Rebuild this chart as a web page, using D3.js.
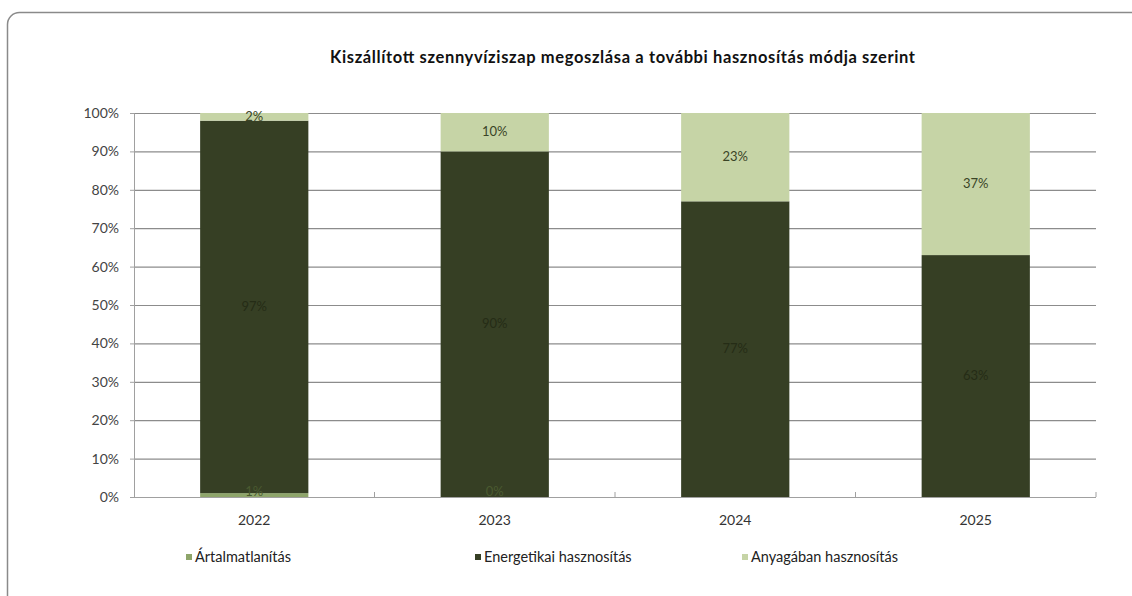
<!DOCTYPE html>
<html>
<head>
<meta charset="utf-8">
<script src="https://cdn.jsdelivr.net/npm/d3@7"></script>
<style>
  body { margin: 0; background: #fff; }
  svg text { font-family: Lato, "Open Sans", sans-serif; }
</style>
</head>
<body>
<div id="chart"></div>
<script>
// --- data ---
const years = ["2022", "2023", "2024", "2025"];
const seriesNames = ["Ártalmatlanítás", "Energetikai hasznosítás", "Anyagában hasznosítás"];
const artalmatlanitas = [1, 0, 0, 0];
const energetikai = [97, 90, 77, 63];
const anyagaban = [2, 10, 23, 37];
// which labels Excel actually showed (2024/2025 had none for the bottom series)
const showBottomLabel = [true, true, false, false];
const yTicks = [0, 10, 20, 30, 40, 50, 60, 70, 80, 90, 100];
const colors = ["#8ea56a", "#363f24", "#c6d4a6"];

const W = 1132, H = 596;
const margin = { top: 113, right: 36, bottom: 99, left: 134 };

const svg = d3.select("#chart").append("svg")
    .attr("width", W).attr("height", H);

// outer frame (only top & left edges fall inside the view)
svg.append("rect")
    .attr("x", 7.5).attr("y", 12.5)
    .attr("width", 1136).attr("height", 600)
    .attr("rx", 12)
    .attr("fill", "none").attr("stroke", "#8a8a8a").attr("stroke-width", 1.5);

svg.append("text")
    .attr("x", 330).attr("y", 63)
    .attr("font-size", 16.5).attr("font-weight", 700).attr("fill", "#111")
    .attr("textLength", 585).attr("lengthAdjust", "spacing")
    .text("Kiszállított szennyvíziszap megoszlása a további hasznosítás módja szerint");

const x = d3.scaleBand().domain(years)
    .range([margin.left, W - margin.right])
    .paddingInner(0.55).paddingOuter(0.275);
const y = d3.scaleLinear().domain([0, 100])
    .range([H - margin.bottom, margin.top]);

// grid lines
svg.append("g").selectAll("line")
    .data(yTicks.filter(d => d > 0))
    .enter().append("line")
    .attr("x1", margin.left).attr("x2", W - margin.right)
    .attr("y1", d => y(d) + 0.5).attr("y2", d => y(d) + 0.5)
    .attr("stroke", "#8c8c8c").attr("stroke-width", 1.2);

// y axis
const yAxis = svg.append("g")
    .attr("transform", `translate(${margin.left},0)`)
    .call(d3.axisLeft(y).tickValues(yTicks).tickFormat(d => d + "%").tickSize(4).tickPadding(11));
yAxis.select(".domain").attr("stroke", "#a0a0a0");
yAxis.selectAll(".tick line").attr("stroke", "#a0a0a0");
yAxis.selectAll("text").attr("font-size", 14).attr("fill", "#444");

// stacked bars
const rows = years.map((yr, i) => ({
    year: yr, a: artalmatlanitas[i], e: energetikai[i], m: anyagaban[i], idx: i
}));
const stack = d3.stack().keys(["a", "e", "m"])(rows);

const layers = svg.append("g").selectAll("g")
    .data(stack).enter().append("g")
    .attr("fill", (d, i) => colors[i]);

layers.selectAll("rect")
    .data(d => d)
    .enter().append("rect")
    .attr("x", d => x(d.data.year))
    .attr("width", x.bandwidth())
    .attr("y", d => y(d[1]))
    .attr("height", d => y(d[0]) - y(d[1]));

// x axis
const xAxis = svg.append("g")
    .attr("transform", `translate(0,${H - margin.bottom})`);
xAxis.append("line")
    .attr("x1", margin.left).attr("x2", W - margin.right)
    .attr("y1", 0.5).attr("y2", 0.5)
    .attr("stroke", "#a0a0a0").attr("stroke-width", 1.2);
const step = x.step();
xAxis.selectAll(".sep")
    .data(years)
    .enter().append("line")
    .attr("x1", d => x(d) - x.paddingInner() * step / 2 + step)
    .attr("x2", d => x(d) - x.paddingInner() * step / 2 + step)
    .attr("y1", 0).attr("y2", -5)
    .attr("stroke", "#a0a0a0");
xAxis.selectAll(".lbl")
    .data(years)
    .enter().append("text")
    .attr("x", d => x(d) + x.bandwidth() / 2)
    .attr("y", 28)
    .attr("text-anchor", "middle")
    .attr("font-size", 14).attr("fill", "#333")
    .text(d => d);

// data labels
const labelColor = ["#4a5a30", "#252c16", "#3a4426"];
stack.forEach((layer, li) => {
    svg.append("g").selectAll("text")
        .data(layer.filter(d => li !== 0 || showBottomLabel[d.data.idx]))
        .enter().append("text")
        .attr("x", d => x(d.data.year) + x.bandwidth() / 2)
        .attr("y", d => li === 0 ? y(0) - 1 : (y(d[0]) + y(d[1])) / 2 + 4)
        .attr("text-anchor", "middle")
        .attr("font-size", 13).attr("fill", labelColor[li])
        .text(d => (d[1] - d[0]) + "%");
});

// legend
const legendX = [186, 475, 742];
const legend = svg.append("g").selectAll("g")
    .data(seriesNames).enter().append("g")
    .attr("transform", (d, i) => `translate(${legendX[i]},562)`);
legend.append("rect")
    .attr("x", 0).attr("y", -8).attr("width", 6).attr("height", 6)
    .attr("fill", (d, i) => colors[i]);
legend.append("text")
    .attr("x", 9).attr("y", 0)
    .attr("font-size", 14.5).attr("fill", "#222")
    .text(d => d);
</script>
</body>
</html>
